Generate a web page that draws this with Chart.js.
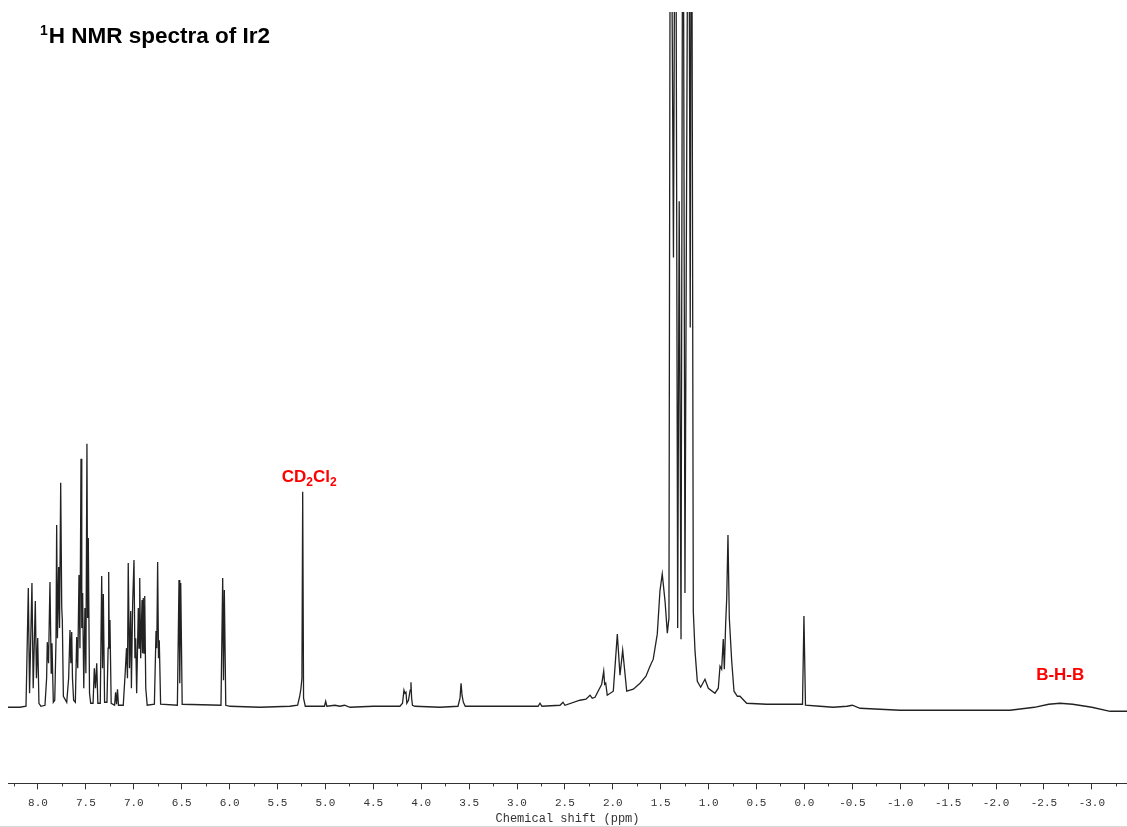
<!DOCTYPE html>
<html>
<head>
<meta charset="utf-8">
<script src="https://cdn.jsdelivr.net/npm/chart.js@4.4.0/dist/chart.umd.min.js"></script>
<style>
  html, body { margin: 0; padding: 0; background: #fff; }
  #wrap { position: relative; width: 1127px; height: 826px; border-bottom: 1px solid #d9d9d9; }
  .lbl { position: absolute; font-family: "Liberation Sans", Arial, sans-serif; font-weight: bold; white-space: nowrap; line-height: 1; }
  #titulo { left: 40px; top: 25px; font-size: 22.5px; color: #000; }
  #titulo sup { font-size: 14px; vertical-align: 0; position: relative; top: -8px; margin-right: 1px; }
  .rojo { color: #f00; font-size: 17px; transform: translate(-50%, -50%); }
  .rojo sub { font-size: 12px; vertical-align: 0; position: relative; top: 4px; }
</style>
</head>
<body>
<div id="wrap">
  <canvas id="espectro"></canvas>
  <div id="titulo" class="lbl"><sup>1</sup>H NMR spectra of Ir2</div>
  <div id="lblCD" class="lbl rojo">CD<sub>2</sub>Cl<sub>2</sub></div>
  <div id="lblBHB" class="lbl rojo">B-H-B</div>
</div>
<script>
//---------------------Datos del espectro (ppm, intensidad)-----------------------

// Zona aromática 8.3 - 6.0 ppm
const aromPpm = [
  8.313, 8.188, 8.125, 8.101, 8.088, 8.063, 8.050, 8.028, 8.016, 8.003, 7.990, 7.969,
  7.927, 7.910, 7.903, 7.890, 7.875, 7.862, 7.854, 7.840,
  7.825, 7.812, 7.805, 7.797, 7.784, 7.775, 7.763, 7.752, 7.746, 7.735,
  7.700, 7.680, 7.666, 7.657, 7.648, 7.640, 7.628,
  7.610, 7.596, 7.585, 7.572, 7.562, 7.551, 7.543, 7.534, 7.522,
  7.510, 7.500, 7.489, 7.482, 7.475, 7.462, 7.450,
  7.425, 7.412, 7.400, 7.387, 7.375,
  7.350, 7.335, 7.326, 7.318, 7.305,
  7.280, 7.268, 7.262, 7.256, 7.249, 7.236,
  7.200, 7.190, 7.180, 7.170, 7.160,
  7.110, 7.090, 7.076, 7.066, 7.058, 7.045, 7.032, 7.025, 7.012, 6.998, 6.988, 6.980, 6.970,
  6.953, 6.945, 6.938, 6.928, 6.914, 6.908, 6.901, 6.893, 6.886, 6.875, 6.860,
  6.785, 6.768, 6.760, 6.751, 6.742, 6.734, 6.720,
  6.545, 6.528, 6.520, 6.510, 6.495,
  6.090, 6.072, 6.064, 6.055, 6.040
];
const aromInt = [
  1, 1, 2, 120, 15, 125, 20, 107, 30, 70, 5, 2,
  3, 30, 66, 45, 126, 35, 65, 6,
  8, 68, 183, 70, 141, 80, 225, 100, 88, 12,
  6, 30, 78, 45, 76, 30, 8,
  6, 71, 40, 133, 60, 249, 80, 115, 20,
  100, 35, 264, 90, 170, 15, 5,
  5, 40, 20, 45, 5,
  5, 132, 40, 114, 6,
  6, 60, 136, 60, 88, 5,
  3, 16, 4, 19, 3,
  3, 35, 60, 30, 145, 40, 97, 20, 104, 148, 50, 70, 15,
  100, 60, 130, 50, 108, 55, 110, 55, 112, 20, 3,
  4, 77, 60, 146, 50, 68, 4,
  3, 128, 25, 125, 4,
  3, 130, 28, 118, 3
];

// Zona media 6.0 - 2.2 ppm (disolvente y señales pequeñas)
const medPpm = [
  5.996, 5.683, 5.370, 5.290, 5.268, 5.255, 5.245, 5.237, 5.228, 5.210,
  5.010, 4.997, 4.985, 4.900, 4.850, 4.800, 4.743, 4.500,
  4.222, 4.195, 4.180, 4.170, 4.159, 4.150, 4.133, 4.115, 4.107, 4.100, 4.091, 4.065,
  3.804, 3.616, 3.595, 3.584, 3.574, 3.560, 3.540, 3.178,
  2.780, 2.760, 2.740, 2.551, 2.520, 2.500, 2.343, 2.280, 2.238, 2.215, 2.186
];
const medInt = [
  2, 1, 2, 3, 12, 20, 30, 216, 10, 2,
  2, 7, 2, 3, 2, 3, 1, 2,
  2, 5, 18, 15, 16, 5, 8, 18, 26, 10, 3, 2,
  1, 2, 10, 25, 13, 6, 2, 2,
  2, 5, 2, 3, 6, 3, 8, 9, 13, 10, 11
];

// Zona alifática 2.2 - 0.6 ppm
const aliPpm = [
  2.116, 2.095, 2.085, 2.074, 2.058, 1.995, 1.953, 1.925, 1.897, 1.855, 1.786, 1.716,
  1.654, 1.612, 1.578, 1.536, 1.508, 1.484, 1.455, 1.431, 1.414,
  1.398, 1.367, 1.346, 1.323, 1.307, 1.288, 1.268, 1.247, 1.210, 1.192, 1.179,
  1.160, 1.142, 1.118, 1.083, 1.038, 1.003,
  0.934, 0.899, 0.881, 0.864, 0.847, 0.836, 0.822, 0.811, 0.798, 0.784, 0.759, 0.735,
  0.700, 0.673, 0.603
];
const aliInt = [
  24, 37, 24, 25, 13, 17, 74, 33, 58, 17, 19, 25,
  32, 42, 49, 74, 117, 134, 107, 75, 90,
  1000, 450, 1000, 80, 506, 69, 1000, 115, 1000, 380, 1000,
  97, 57, 27, 21, 29, 20,
  15, 20, 42, 39, 69, 39, 85, 110, 173, 90, 47, 17,
  12, 12, 5
];

// Zona de campo alto 0.6 - -3.4 ppm (TMS y puente B-H-B)
const altoPpm = [
  0.394, 0.119, 0.020, 0.005, -0.011, -0.162, -0.300, -0.444, -0.500, -0.580,
  -0.998, -2.146, -2.400, -2.550, -2.668, -2.800, -3.000, -3.190, -3.367
];
const altoInt = [
  4, 4, 4, 92, 3, 2, 1, 2, 3, 0,
  -2, -2, 1, 4, 5, 4, 1, -3, -3
];

// Etiquetas en rojo (posición en ppm / intensidad)
const etiquetas = ['lblCD', 'lblBHB'];
const etiquetaPpm = [5.17, -2.67];
const etiquetaInt = [232, 34];

const ejeMin = -3.367, ejeMax = 8.313;

const todosPpm = aromPpm.concat(medPpm, aliPpm, altoPpm);
const todosInt = aromInt.concat(medInt, aliInt, altoInt);
const puntos = todosPpm.map((p, i) => ({ x: p, y: todosInt[i] }));

//---------------------Marcas menores del eje (cada 0.25 ppm)-----------------------
const marcasMenores = {
  id: 'marcasMenores',
  afterDraw(chart) {
    const xs = chart.scales.x, ctx = chart.ctx;
    ctx.save();
    ctx.strokeStyle = '#333';
    ctx.lineWidth = 1;
    for (let v = Math.ceil(xs.min * 4) / 4; v <= xs.max; v += 0.25) {
      if (Math.abs(v * 2 - Math.round(v * 2)) < 1e-6) continue;
      const px = Math.round(xs.getPixelForValue(v)) + 0.5;
      ctx.beginPath();
      ctx.moveTo(px, xs.top);
      ctx.lineTo(px, xs.top + 3);
      ctx.stroke();
    }
    ctx.restore();
  },
  afterRender(chart) {
    // coloca las etiquetas HTML sobre la escala
    etiquetas.forEach((id, i) => {
      const el = document.getElementById(id);
      el.style.left = chart.scales.x.getPixelForValue(etiquetaPpm[i]) + 'px';
      el.style.top = chart.scales.y.getPixelForValue(etiquetaInt[i]) + 'px';
    });
  }
};

//---------------------Gráfica del espectro-----------------------
const ctx = document.getElementById('espectro').getContext('2d');
const espectro = new Chart(ctx, {
  type: 'line',
  data: {
    datasets: [{
      label: '1H NMR',
      data: puntos,
      borderColor: '#222',
      borderWidth: 1.3,
      pointRadius: 0,
      tension: 0,
      fill: false
    }]
  },
  options: {
    responsive: true,
    maintainAspectRatio: false,
    animation: false,
    layout: { padding: { left: 8, right: 0, top: 12, bottom: 0 } },
    plugins: { legend: { display: false }, tooltip: { enabled: false } },
    scales: {
      x: {
        type: 'linear',
        reverse: true,
        min: ejeMin,
        max: ejeMax,
        grid: { drawOnChartArea: false, tickLength: 6, color: '#333' },
        border: { display: true, color: '#333', width: 1 },
        ticks: {
          stepSize: 0.5,
          includeBounds: false,
          autoSkip: false,
          maxRotation: 0,
          padding: 7,
          color: '#333',
          font: { family: '"Liberation Mono", "DejaVu Sans Mono", monospace', size: 11 },
          callback: v => v.toFixed(1)
        },
        title: {
          display: true,
          text: 'Chemical shift (ppm)',
          color: '#333',
          padding: { top: -5, bottom: 0 },
          font: { family: '"Liberation Mono", "DejaVu Sans Mono", monospace', size: 12 }
        }
      },
      y: { display: false, min: -75, max: 695 }
    }
  },
  plugins: [marcasMenores]
});
</script>
</body>
</html>
